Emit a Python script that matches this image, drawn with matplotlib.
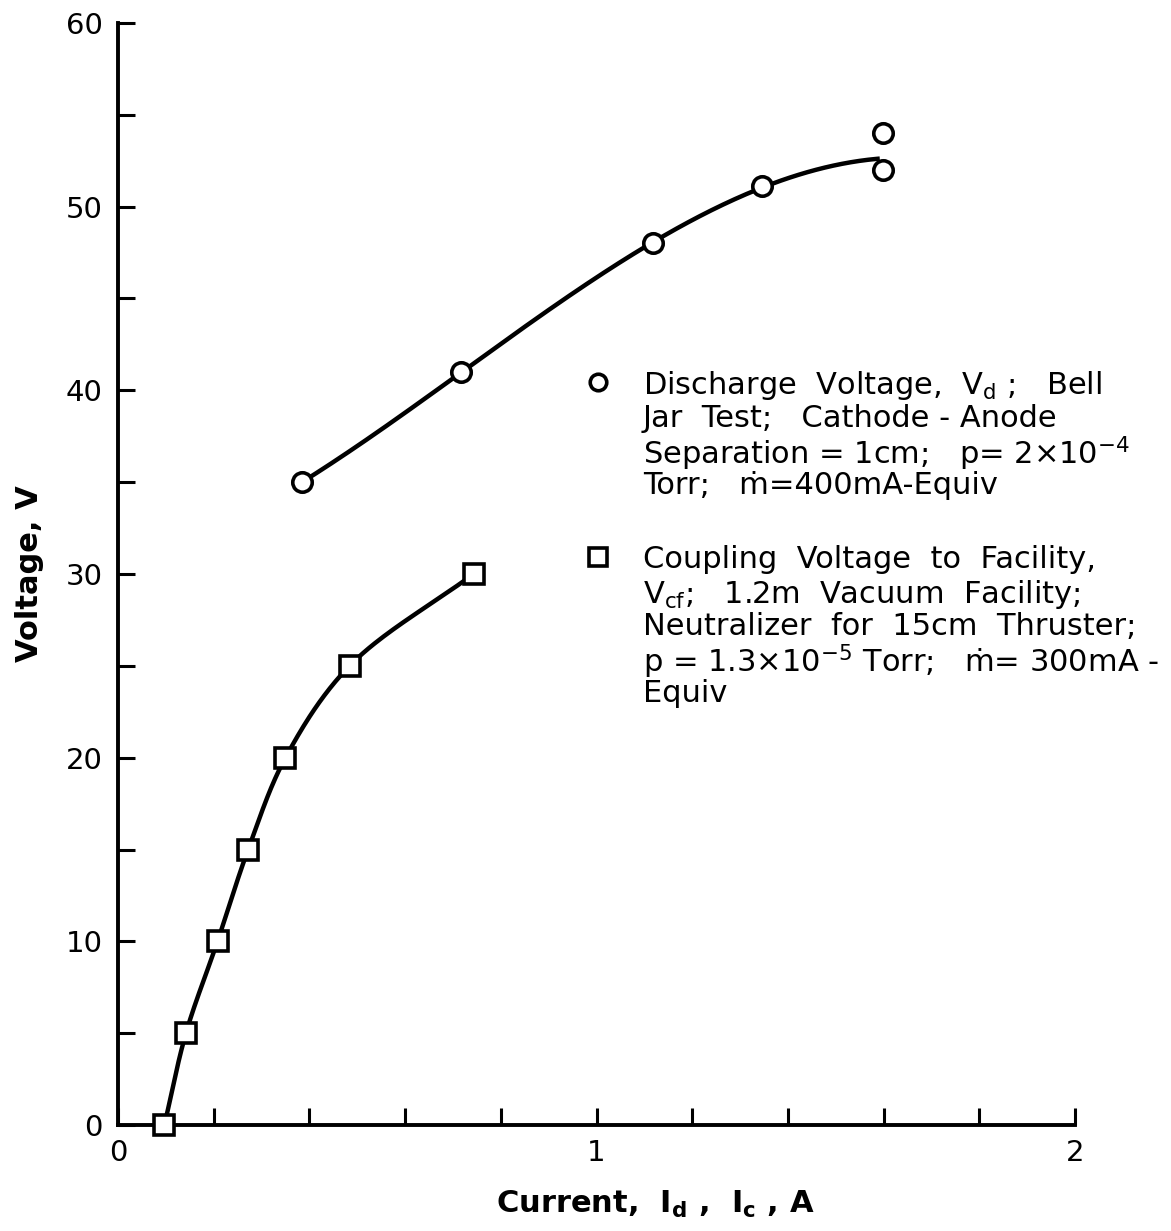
import numpy as np
import matplotlib
matplotlib.use("Agg")
import matplotlib.pyplot as plt

# discharge voltage, bell jar test (open circles)
vd_current = [0.385, 0.717, 1.118, 1.346, 1.598, 1.598]
vd_voltage = [35.0, 41.0, 48.0, 51.1, 54.0, 52.0]
# faired curve through the Vd points, ending at the lower of the two last points
vd_curve_current = [0.385, 0.717, 1.118, 1.346, 1.592]
vd_curve_voltage = [35.0, 41.0, 48.0, 51.1, 52.6]

# coupling voltage to facility (open squares)
vcf_current = [0.097, 0.142, 0.208, 0.272, 0.350, 0.484, 0.743]
vcf_voltage = [0.0, 5.0, 10.0, 15.0, 20.0, 25.0, 30.0]

x_major = [0, 1, 2]
y_major = [0, 10, 20, 30, 40, 50, 60]

vd_lines = [
    r"Discharge  Voltage,  V$_\mathregular{d}$ ;   Bell",
    "Jar  Test;   Cathode - Anode",
    r"Separation = 1cm;   p= 2$\times$10$^{-4}$",
    "Torr;   \u1e41=400mA-Equiv",
]
vcf_lines = [
    "Coupling  Voltage  to  Facility,",
    r"V$_\mathregular{cf}$;   1.2m  Vacuum  Facility;",
    "Neutralizer  for  15cm  Thruster;",
    "p = 1.3$\\times$10$^{-5}$ Torr;   \u1e41= 300mA -",
    "Equiv",
]


def catmull_rom(xs, ys, n=40):
    # centripetal Catmull-Rom through the points, in roughly square units
    sx, sy = 0.5, 1.15 / 60.0
    p = np.column_stack([np.asarray(xs) * sx, np.asarray(ys) * sy])
    p = np.vstack([2 * p[0] - p[1], p, 2 * p[-1] - p[-2]])
    out = []
    for i in range(1, len(p) - 2):
        P0, P1, P2, P3 = p[i - 1], p[i], p[i + 1], p[i + 2]
        t0 = 0.0
        t1 = t0 + np.linalg.norm(P1 - P0) ** 0.5
        t2 = t1 + np.linalg.norm(P2 - P1) ** 0.5
        t3 = t2 + np.linalg.norm(P3 - P2) ** 0.5
        t = np.linspace(t1, t2, n)[:, None]
        A1 = (t1 - t) / (t1 - t0) * P0 + (t - t0) / (t1 - t0) * P1
        A2 = (t2 - t) / (t2 - t1) * P1 + (t - t1) / (t2 - t1) * P2
        A3 = (t3 - t) / (t3 - t2) * P2 + (t - t2) / (t3 - t2) * P3
        B1 = (t2 - t) / (t2 - t0) * A1 + (t - t0) / (t2 - t0) * A2
        B2 = (t3 - t) / (t3 - t1) * A2 + (t - t1) / (t3 - t1) * A3
        C = (t2 - t) / (t2 - t1) * B1 + (t - t1) / (t2 - t1) * B2
        out.append(C if i == 1 else C[1:])
    c = np.vstack(out)
    return c[:, 0] / sx, c[:, 1] / sy


plt.rcParams['font.family'] = ['DejaVu Sans']
plt.rcParams['mathtext.default'] = 'regular'

fig = plt.figure(figsize=(11.71, 12.31), dpi=100)
ax = fig.add_axes([118 / 1171, 1 - 1125 / 1231, 957 / 1171, 1102 / 1231])

lw = 3.2
# Vd: smooth cubic fit over the faired points
coef = np.polyfit(vd_curve_current, vd_curve_voltage, 3)
cx = np.linspace(vd_curve_current[0], vd_curve_current[-1], 200)
ax.plot(cx, np.polyval(coef, cx), color='black', lw=lw,
        solid_capstyle='butt', zorder=2)
sx, sy = catmull_rom(vcf_current, vcf_voltage)
ax.plot(sx, sy, color='black', lw=lw, solid_capstyle='butt', zorder=2)

ax.plot(vd_current, vd_voltage, 'o', ms=14, mfc='white', mec='black',
        mew=2.6, ls='none', zorder=3, clip_on=False)
ax.plot(vcf_current, vcf_voltage, 's', ms=15, mfc='white', mec='black',
        mew=2.6, ls='none', zorder=3, clip_on=False)

ax.set_xlim(0, 2)
ax.set_ylim(0, 60)
for s in ['top', 'right']:
    ax.spines[s].set_visible(False)
for s in ['left', 'bottom']:
    ax.spines[s].set_linewidth(2.8)

ax.set_xticks(x_major)
ax.set_xticklabels([str(v) for v in x_major])
ax.set_xticks(np.arange(0, 2.01, 0.2), minor=True)
ax.set_yticks(y_major)
ax.set_yticklabels([str(v) for v in y_major])
ax.set_yticks(np.arange(0, 61, 5), minor=True)
ax.tick_params(which='both', direction='in', width=2.2, length=12,
               labelsize=21)
ax.tick_params(axis='y', which='both', pad=11)
ax.tick_params(axis='x', which='both', pad=10)

ax.set_xlabel(r"Current,  I$_\mathregular{d}$ ,  I$_\mathregular{c}$ , A",
              fontsize=22, fontweight='bold')
ax.xaxis.label.set_va('baseline')
ax.xaxis.set_label_coords(0.561, -0.080)
ax.set_ylabel("Voltage, V", fontsize=22, fontweight='bold')
ax.yaxis.label.set_va('center')
ax.yaxis.set_label_coords(-0.092, 0.5)

# key, written beside the curves
pitch = 33.5 / 1102
key_x = (598 - 118) / 957
text_x = (643 - 118) / 957
blocks = [('o', 14, (1125 - 382) / 1102, vd_lines),
          ('s', 15, (1125 - 557) / 1102, vcf_lines)]
for marker, ms, y0, lines in blocks:
    ax.plot([key_x], [y0], marker, ms=ms * 0.85, mfc='white', mec='black',
            mew=2.6, transform=ax.transAxes, clip_on=False)
    for i, line in enumerate(lines):
        ax.text(text_x, y0 - i * pitch, line, transform=ax.transAxes,
                fontsize=22, va='center_baseline', ha='left')

fig.savefig("out.png", dpi=100)
